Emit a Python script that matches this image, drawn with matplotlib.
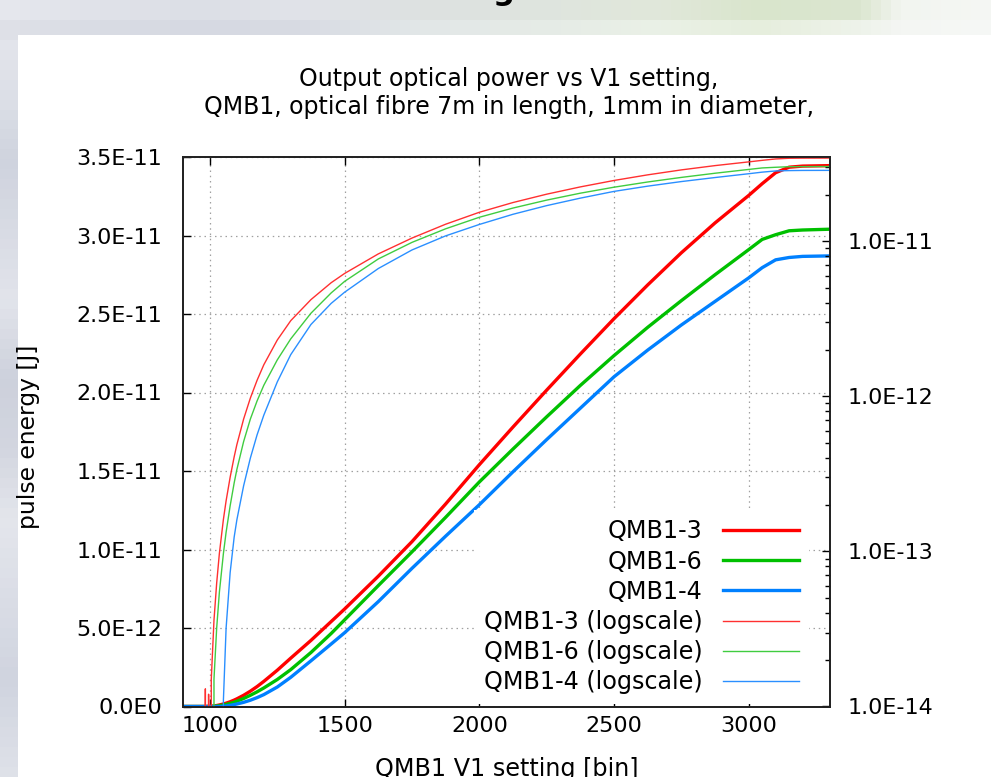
import numpy as np
import matplotlib
matplotlib.use("Agg")
import matplotlib.pyplot as plt
from matplotlib.ticker import FuncFormatter, FixedLocator, LogLocator, NullFormatter
from matplotlib.patches import Rectangle

plt.rcParams['font.family'] = ['DejaVu Sans']

# V1 setting [bin]
v1_bin = [900, 980, 983, 986, 995, 1000, 1005, 1015, 1025, 1035,
          1050, 1060, 1075, 1090, 1100, 1125, 1150, 1175, 1200, 1250,
          1300, 1375, 1450, 1500, 1625, 1750, 1875, 2000, 2125, 2250,
          2375, 2500, 2625, 2750, 2875, 3000, 3050, 3100, 3150, 3200,
          3300]

# pulse energy in pJ
qmb1_3 = [0, 0, 0.013, 0, 0.012, 0, 0.015, 0.036, 0.0625, 0.097,
          0.161, 0.212, 0.301, 0.408, 0.489, 0.714, 0.975, 1.27, 1.60, 2.31,
          3.08, 4.21, 5.41, 6.21, 8.3, 10.5, 12.9, 15.4, 17.8, 20.15,
          22.45, 24.7, 26.85, 28.9, 30.8, 32.55, 33.3, 34.0, 34.35, 34.42,
          34.45]
qmb1_6 = [0, 0, 0, 0, 0, 0, 0, 0.015, 0.032, 0.0545,
          0.097, 0.133, 0.197, 0.277, 0.338, 0.511, 0.714, 0.935, 1.18, 1.72,
          2.35, 3.44, 4.65, 5.52, 7.7, 9.85, 12.05, 14.3, 16.4, 18.45,
          20.45, 22.35, 24.15, 25.85, 27.5, 29.1, 29.75, 30.05, 30.3, 30.35,
          30.4]
qmb1_4 = [0, 0, 0, 0, 0, 0, 0, 0, 0, 0,
          0.011, 0.032, 0.073, 0.124, 0.16, 0.265, 0.40, 0.565, 0.757, 1.24,
          1.86, 2.91, 3.98, 4.70, 6.68, 8.8, 10.85, 12.85, 14.95, 17.0,
          19.0, 21.0, 22.7, 24.3, 25.8, 27.3, 27.95, 28.45, 28.6, 28.67,
          28.7]

names = ["QMB1-3", "QMB1-6", "QMB1-4"]
thick_cols = ["#ff0000", "#00c000", "#0080ff"]
thin_cols = ["#ff3030", "#40cc40", "#2a8fff"]

x = np.array(v1_bin)
series = [np.array(s) * 1e-12 for s in (qmb1_3, qmb1_6, qmb1_4)]

W, H = 991, 777
fig = plt.figure(figsize=(W / 100, H / 100), dpi=100)

# blurred background behind the white panel
bg = fig.add_axes([0, 0, 1, 1])
bg.set_axis_off()
top_x = [0, 100, 200, 300, 420, 560, 660, 760, 860, 900, 991]
top_a = ["#e6e8ee", "#e0e2e9", "#dcdfe6", "#e1e3e9", "#dde1e1", "#dfe5de", "#e1e8da", "#d9e5cc", "#dbe6d0", "#f2f5f0", "#f5f7f4"]
top_b = ["#dfe1e8", "#d9dce4", "#d6d9e2", "#d8dbe3", "#e2e7e8", "#e6ece6", "#eaf1e6", "#e6eedd", "#eef3ea", "#f4f6f3", "#f6f8f6"]
left_y = [35, 100, 160, 230, 300, 380, 450, 520, 600, 680, 777]
left_c = ["#e4e6ec", "#dcdfe7", "#cfd3de", "#d8dbe4", "#e2e4eb", "#cdd1dc", "#d3d6e0", "#e4e6ec", "#dadde6", "#d0d4df", "#dfe2e9"]

def hx(c):
    return np.array([int(c[i:i + 2], 16) for i in (1, 3, 5)]) / 255.0

nx, ny = 99, 78
img = np.ones((ny, nx, 3))
for r in range(ny):
    yc = (r + 0.5) * H / ny
    for c in range(nx):
        xc = (c + 0.5) * W / nx
        if yc < 35:
            pal = top_a if yc < 17 else top_b
            img[r, c] = [np.interp(xc, top_x, [hx(p)[k] for p in pal]) for k in range(3)]
        else:
            img[r, c] = [np.interp(yc, left_y, [hx(p)[k] for p in left_c]) for k in range(3)]
bg.imshow(img, extent=[0, W, H, 0], aspect='auto', interpolation='nearest')
bg.add_patch(Rectangle((18, 35), W - 18, H - 35, facecolor='white', edgecolor='none'))
bg.set_xlim(0, W)
bg.set_ylim(H, 0)
fig.text(503 / W, 1.0, "g", fontsize=22, fontweight='bold', ha='center', va='baseline')

# main plot
L, R, T, B = 183, 829.5, 157, 706.5
ax = fig.add_axes([L / W, 1 - B / H, (R - L) / W, (B - T) / H])
ax2 = ax.twinx()

for s, n, c in zip(series, names, thick_cols):
    ax.plot(x, s, color=c, lw=2.4, label=n)
for s, n, c in zip(series, names, thin_cols):
    ax2.plot(x, s, color=c, lw=1.0, label=n + " (logscale)")

ax.set_xlim(900, 3300)
ax.set_ylim(0, 3.5e-11)
ax2.set_yscale('log')
ax2.set_ylim(1e-14, 3.5e-11)

def sci(v, pos):
    if v == 0:
        return "0.0E0"
    e = int(np.floor(np.log10(abs(v)) + 1e-9))
    m = v / 10 ** e
    return "%.1fE%d" % (m, e)

ax.xaxis.set_major_locator(FixedLocator([1000, 1500, 2000, 2500, 3000]))
ax.yaxis.set_major_locator(FixedLocator(np.arange(0, 3.51e-11, 5e-12)))
ax.yaxis.set_major_formatter(FuncFormatter(sci))
ax2.yaxis.set_major_locator(LogLocator(base=10, numticks=10))
ax2.yaxis.set_minor_locator(LogLocator(base=10, subs=np.arange(2, 10), numticks=20))
ax2.yaxis.set_major_formatter(FuncFormatter(sci))
ax2.yaxis.set_minor_formatter(NullFormatter())

ax.grid(True, color='#a0a0a0', lw=0.9, linestyle=(0, (1.2, 3)))
ax.tick_params(axis='x', direction='in', top=True, length=6, width=1, labelsize=16, pad=7)
ax.tick_params(axis='y', direction='in', right=False, length=6, width=1, labelsize=16, pad=15)
ax2.tick_params(axis='y', which='major', direction='in', length=6, width=1, labelsize=16, pad=13)
ax2.tick_params(axis='y', which='minor', direction='in', length=3.5, width=1)
for a in (ax, ax2):
    for sp in a.spines.values():
        sp.set_color('#222222')
        sp.set_linewidth(1.3)

ax.set_ylabel("pulse energy [J]", fontsize=16.8)
ax.yaxis.set_label_coords((40 - L) / (R - L), (B - 437) / (B - T))
ax.set_xlabel("QMB1 V1 setting [bin]", fontsize=17.2)
ax.xaxis.set_label_coords((507 - L) / (R - L), (B - 757) / (B - T))

fig.text(509 / W, 1 - 93 / H,
         "Output optical power vs V1 setting,\nQMB1, optical fibre 7m in length, 1mm in diameter,",
         ha='center', va='center', fontsize=17, linespacing=1.25)

h1, l1 = ax.get_legend_handles_labels()
h2, l2 = ax2.get_legend_handles_labels()
leg = ax2.legend(h1 + h2, l1 + l2, loc='lower right', markerfirst=False,
                 bbox_to_anchor=((809 - L) / (R - L), (B - 704) / (B - T)),
                 borderaxespad=0, fontsize=17.2, handlelength=3.2, handletextpad=0.85,
                 labelspacing=0.26, borderpad=0.4, frameon=True, fancybox=False)
leg.get_frame().set_facecolor('white')
leg.get_frame().set_edgecolor('none')
leg.get_frame().set_alpha(1)

fig.savefig("out.png", dpi=100)
